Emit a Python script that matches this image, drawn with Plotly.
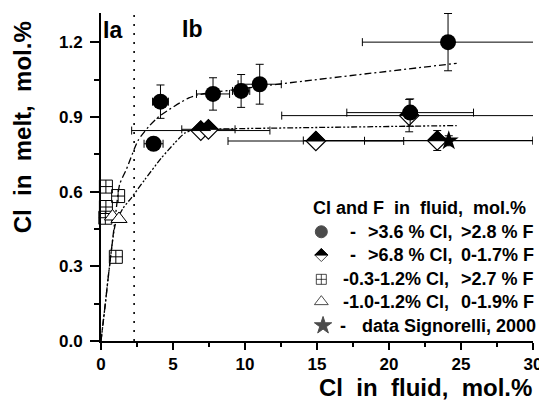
import plotly.graph_objects as go

# ---------------- data ----------------
# filled circles: >3.6 % Cl, >2.8 % F
circ_x = [3.65, 4.13, 7.78, 9.73, 11.02, 21.47, 24.10]
circ_y = [0.792, 0.961, 0.992, 1.004, 1.031, 0.917, 1.200]
circ_ex = [0.66, 0.55, 1.15, 0.60, 1.50, 4.40, 5.95]
circ_ey = [0.0, 0.067, 0.065, 0.066, 0.080, 0.055, 0.115]

# half-filled diamonds: >6.8 % Cl, 0-1.7 % F
dia_x = [6.93, 7.46, 14.92, 21.40, 23.35]
dia_y = [0.845, 0.850, 0.803, 0.905, 0.805]
dia_ex_plus = [4.80, 1.85, 6.10, 8.85, 6.65]
dia_ex_minus = [4.80, 1.85, 6.10, 8.85, 9.30]
dia_ey = [0.0, 0.0, 0.0, 0.065, 0.040]

# crossed squares: -0.3-1.2 % Cl, >2.7 % F
sq_x = [0.34, 1.19, 0.34, 0.30, 1.03]
sq_y = [0.620, 0.582, 0.538, 0.495, 0.338]

# open triangles: -1.0-1.2 % Cl, 0-1.9 % F
tri_x = [0.80, 1.25]
tri_y = [0.500, 0.490]

# star: data Signorelli, 2000
star_x = [24.15]
star_y = [0.804]
star_ex = [5.85]
star_ey = [0.02]

# trend curves
upper_x = [0, 0.3, 0.55, 1.0, 1.3, 1.77, 2.57, 3.3, 4.0, 4.75, 5.5, 6.1, 6.7, 11.0, 24.7]
upper_y = [0, 0.15, 0.28, 0.50, 0.63, 0.69, 0.805, 0.86, 0.90, 0.93, 0.957, 0.976, 0.988, 1.022, 1.115]
lower_x = [0, 0.3, 0.55, 1.0, 1.54, 2.1, 3.03, 4.18, 5.1, 5.8, 6.5, 9.0, 24.7]
lower_y = [0, 0.15, 0.28, 0.47, 0.534, 0.574, 0.647, 0.734, 0.794, 0.834, 0.848, 0.852, 0.865]

boundary_x = 2.3

x_ticks = [0, 5, 10, 15, 20, 25, 30]
y_ticks = [0.0, 0.3, 0.6, 0.9, 1.2]

legend_title = "Cl and F\u00a0 in\u00a0 fluid,\u00a0 mol.%"
legend_left = ["&gt;3.6 % Cl,", "&gt;6.8 % Cl,", "-0.3-1.2% Cl,", "-1.0-1.2% Cl,", "data Signorelli, 2000"]
legend_right = ["&gt;2.8 % F", "0-1.7% F", "&gt;2.7 % F", "0-1.9% F", ""]

# ---------------- figure ----------------
FONT = "Liberation Sans, Arial, sans-serif"
fig = go.Figure()

dash_dot = "7px,3px,2px,3px"
dash_dot_dot = "6px,2px,2px,2px,2px,2px"

fig.add_trace(go.Scatter(x=upper_x, y=upper_y, mode="lines",
                         line=dict(color="black", width=1.3, dash=dash_dot, shape="spline", smoothing=0.6),
                         hoverinfo="skip", showlegend=False))
fig.add_trace(go.Scatter(x=lower_x, y=lower_y, mode="lines",
                         line=dict(color="black", width=1.3, dash=dash_dot_dot, shape="spline", smoothing=0.6),
                         hoverinfo="skip", showlegend=False))

err_style = dict(color="black", thickness=1, width=4)

fig.add_trace(go.Scatter(
    x=dia_x, y=dia_y, mode="markers", cliponaxis=False, showlegend=False,
    marker=dict(symbol="diamond", size=15, color="white", line=dict(color="black", width=1.2)),
    error_x=dict(type="data", symmetric=False, array=dia_ex_plus, arrayminus=dia_ex_minus, **err_style),
    error_y=dict(type="data", array=dia_ey, **err_style)))

fig.add_trace(go.Scatter(
    x=sq_x, y=sq_y, mode="markers", cliponaxis=False, showlegend=False,
    marker=dict(symbol="square-cross-open", size=13, color="black", line=dict(color="black", width=1))))

fig.add_trace(go.Scatter(
    x=tri_x, y=tri_y, mode="markers", cliponaxis=False, showlegend=False,
    marker=dict(symbol="triangle-up", size=14, color="white", line=dict(color="black", width=1))))

fig.add_trace(go.Scatter(
    x=circ_x, y=circ_y, mode="markers", cliponaxis=False, showlegend=False,
    marker=dict(symbol="circle", size=16, color="black", line=dict(color="black", width=0)),
    error_x=dict(type="data", array=circ_ex, **err_style),
    error_y=dict(type="data", array=circ_ey, **err_style)))

fig.add_trace(go.Scatter(
    x=star_x, y=star_y, mode="markers", cliponaxis=False, showlegend=False,
    marker=dict(symbol="star", size=15, color="black", line=dict(color="black", width=0)),
    error_x=dict(type="data", array=star_ex, **err_style),
    error_y=dict(type="data", array=star_ey, **err_style)))

# top halves of the diamonds (filled black)
for xv, yv in zip(dia_x, dia_y):
    fig.add_shape(type="path", xref="x", yref="y", xsizemode="pixel", ysizemode="pixel",
                  xanchor=xv, yanchor=yv, path="M-9.75,0 L0,9.75 L9.75,0 Z",
                  fillcolor="black", line=dict(color="black", width=1), layer="above")

# boundary Ia / Ib
fig.add_shape(type="line", xref="x", yref="paper", x0=boundary_x, x1=boundary_x, y0=0, y1=1,
              line=dict(color="black", width=1.6, dash="2px,7px"), layer="below")

# ---------- legend (manual) ----------
leg_rows = [0.333, 0.262, 0.188, 0.120, 0.047]
leg_symbols = ["circle", "diamond", "square-cross-open", "triangle-up", "star"]
leg_sizes = [12, 10, 10, 12, 13]
leg_fill = ["black", "white", "black", "white", "black"]
fig.add_trace(go.Scatter(
    x=[0.510, 0.510, 0.510, 0.510, 0.514], y=leg_rows, xaxis="x2", yaxis="y2",
    mode="markers", cliponaxis=False, showlegend=False, hoverinfo="skip",
    marker=dict(symbol=leg_symbols, size=leg_sizes, color=leg_fill,
                line=dict(color="black", width=1))))
fig.add_shape(type="path", xref="paper", yref="paper", xsizemode="pixel", ysizemode="pixel",
              xanchor=0.510, yanchor=leg_rows[1], path="M-6.5,0 L0,6.5 L6.5,0 Z",
              fillcolor="black", line=dict(color="black", width=1), layer="above")

def b(s):
    return "<b>" + s + "</b>"

lf = dict(family=FONT, size=18, color="black")
ann = []
ann.append(dict(xref="paper", yref="paper", x=0.487, y=0.405, text=b(legend_title),
                xanchor="left", yanchor="middle", showarrow=False, font=lf))
dash_x = [0.583, 0.583, None, None, 0.560]
left_x = [0.613, 0.613, 0.556, 0.556, 0.599]
for i, yv in enumerate(leg_rows):
    if dash_x[i] is not None:
        ann.append(dict(xref="paper", yref="paper", x=dash_x[i], y=yv, text=b("-"),
                        xanchor="center", yanchor="middle", showarrow=False, font=lf))
    ann.append(dict(xref="paper", yref="paper", x=left_x[i], y=yv, text=b(legend_left[i]),
                    xanchor="left", yanchor="middle", showarrow=False, font=lf))
    if legend_right[i]:
        ann.append(dict(xref="paper", yref="paper", x=1.008, y=yv, text=b(legend_right[i]),
                        xanchor="right", yanchor="middle", showarrow=False, font=lf))

# region labels
rf = dict(family=FONT, size=23, color="black")
ann.append(dict(xref="x", yref="y", x=0.83, y=1.25, text=b("Ia"), showarrow=False, font=rf,
                xanchor="center", yanchor="middle"))
ann.append(dict(xref="x", yref="y", x=6.3, y=1.253, text=b("Ib"), showarrow=False, font=rf,
                xanchor="center", yanchor="middle"))

# axis titles
tf = dict(family=FONT, size=24, color="black")
ann.append(dict(xref="paper", yref="paper", x=1.0, y=-0.141, text=b("Cl\u00a0 in\u00a0 fluid,\u00a0 mol.%"),
                xanchor="right", yanchor="middle", showarrow=False, font=tf, borderpad=0))
ann.append(dict(xref="paper", yref="paper", x=-0.181, y=0.651, text=b("Cl\u00a0 in\u00a0 melt,\u00a0 mol.%"),
                xanchor="center", yanchor="middle", showarrow=False, font=tf, textangle=-90))

tick_font = dict(family=FONT, size=17, color="black")
# page body has an 8px margin, so the figure is sized/offset to compensate
fig.update_layout(
    width=539, height=393, autosize=False,
    margin=dict(l=93, r=10.5, t=5, b=60, pad=0),
    paper_bgcolor="white", plot_bgcolor="white",
    annotations=ann,
    xaxis=dict(range=[0, 30], tickmode="array", tickvals=x_ticks, ticktext=[b(str(v)) for v in x_ticks],
               ticks="outside", ticklen=7, tickwidth=1.5, tickcolor="black",
               showline=True, linewidth=2, linecolor="black", showgrid=False, zeroline=False,
               tickfont=tick_font,
               minor=dict(tickmode="linear", tick0=0, dtick=2.5, ticks="outside", ticklen=4,
                          tickwidth=1.5, tickcolor="black", showgrid=False)),
    yaxis=dict(range=[0, 1.317], tickmode="array", tickvals=y_ticks, ticktext=[b(f"{v:.1f}") for v in y_ticks],
               ticks="outside", ticklen=9, tickwidth=1.5, tickcolor="black", ticklabelstandoff=4,
               showline=True, linewidth=2, linecolor="black", showgrid=False, zeroline=False,
               tickfont=tick_font,
               minor=dict(tickmode="linear", tick0=0, dtick=0.15, ticks="outside", ticklen=5,
                          tickwidth=1.5, tickcolor="black", showgrid=False)),
    xaxis2=dict(overlaying="x", range=[0, 1], visible=False),
    yaxis2=dict(overlaying="y", range=[0, 1], visible=False),
)

fig.write_html("out.html")
